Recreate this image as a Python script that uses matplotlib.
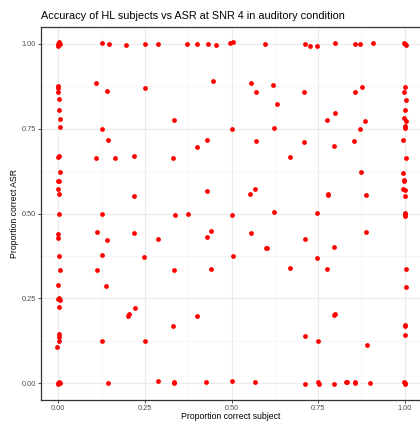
import matplotlib
matplotlib.use("Agg")
import matplotlib.pyplot as plt
from matplotlib.ticker import MultipleLocator

plt.rcParams['font.family'] = ['Liberation Sans', 'DejaVu Sans']

title = "Accuracy of HL subjects vs ASR at SNR 4 in auditory condition"
x_label = "Proportion correct subject"
y_label = "Proportion correct ASR"
tick_values = [0.0, 0.25, 0.5, 0.75, 1.0]
tick_labels = ["0.00", "0.25", "0.50", "0.75", "1.00"]

# Proportion correct subject (with jitter as seen in the picture)
subject = [
    -0.002, 0.003, 0.0, 0.004, 0.0, 0.0, 0.0, 0.002, 0.001, 0.004, 0.004, 0.0, 0.003,
    0.004, 0.0, 0.003, -0.002, 0.002, 0.002, 0.0, 0.0, 0.002, 0.005, -0.001, 0.0,
    0.003, 0.004, 0.002, 0.002, 0.002, 0.001, -0.003, 0.0, 0.003, -0.002, 0.004,
    0.126, 0.145, 0.196, 0.108, 0.140, 0.125, 0.144, 0.108, 0.163, 0.219,
    0.251, 0.289, 0.371, 0.400, 0.432, 0.454, 0.497, 0.504, 0.596,
    0.446, 0.250, 0.556, 0.570, 0.620, 0.632, 0.333, 0.500, 0.623, 0.429, 0.400, 0.570, 0.332,
    0.712, 0.727, 0.748, 0.799, 0.856, 0.872, 0.908, 1.0, 0.998, 1.003,
    0.710, 0.858, 0.876, 1.0, 0.997, 1.003, 0.798, 0.775, 0.886, 0.872, 1.0, 0.998,
    1.003, 1.0, 1.002, 0.710, 0.797, 0.855, 0.996, 0.669, 1.003,
    0.126, 0.113, 0.141, 0.126, 0.111, 0.139, 0.219, 0.219,
    0.430, 0.553, 0.569, 0.337, 0.374, 0.501, 0.623, 0.287, 0.440, 0.429, 0.555,
    0.599, 0.602, 0.248, 0.503, 0.333, 0.440,
    0.874, 0.995, 0.997, 0.999, 0.995, 1.0, 1.0, 0.778, 0.780, 0.888, 0.748, 1.0,
    1.002, 1.002, 0.888, 0.713, 0.797, 0.747, 0.669, 0.776, 1.003, 1.003,
    0.125, 0.142, 0.201, 0.203, 0.220,
    0.249, 0.331, 0.400, 0.287, 0.333, 0.335, 0.425, 0.500, 0.568,
    0.796, 0.799, 1.0, 1.002, 1.0, 0.711, 0.749, 0.891, 0.713, 0.750, 0.752, 0.797,
    0.830, 0.833, 0.856, 0.858, 0.901, 1.0, 1.002, 0.999,
]

# Proportion correct ASR
asr = [
    1.0, 1.005, 0.995, 1.0, 0.876, 0.869, 0.859, 0.839, 0.804, 0.778, 0.754, 0.668, 0.670,
    0.622, 0.597, 0.595, 0.572, 0.557, 0.500, 0.439, 0.429, 0.375, 0.332, 0.288, 0.248,
    0.250, 0.245, 0.223, 0.144, 0.137, 0.125, 0.106, 0.0, 0.004, -0.003, 0.0,
    1.003, 1.0, 0.998, 0.884, 0.860, 0.748, 0.717, 0.663, 0.664, 0.670,
    1.0, 1.0, 1.0, 1.0, 1.0, 0.997, 1.003, 1.005, 1.0,
    0.891, 0.869, 0.884, 0.857, 0.879, 0.822, 0.775, 0.748, 0.753, 0.717, 0.697, 0.715, 0.664,
    1.0, 0.995, 0.995, 1.002, 1.0, 0.999, 1.002, 1.0, 1.004, 0.997,
    0.857, 0.857, 0.872, 0.872, 0.857, 0.835, 0.797, 0.777, 0.774, 0.749, 0.804, 0.783,
    0.772, 0.753, 0.757, 0.710, 0.700, 0.713, 0.718, 0.668, 0.664,
    0.500, 0.445, 0.423, 0.377, 0.334, 0.285, 0.552, 0.443,
    0.566, 0.557, 0.572, 0.496, 0.500, 0.496, 0.504, 0.424, 0.448, 0.432, 0.443,
    0.399, 0.397, 0.372, 0.375, 0.334, 0.337,
    0.621, 0.619, 0.599, 0.596, 0.572, 0.568, 0.553, 0.555, 0.558, 0.556, 0.502, 0.502,
    0.499, 0.493, 0.444, 0.424, 0.401, 0.370, 0.339, 0.336, 0.335, 0.282,
    0.125, 0.0, 0.199, 0.203, 0.221,
    0.123, 0.167, 0.197, 0.005, 0.002, -0.001, 0.003, 0.005, 0.003,
    0.201, 0.205, 0.171, 0.168, 0.142, 0.139, 0.125, 0.111, -0.004, 0.003, -0.002, -0.004,
    0.004, 0.002, 0.0, 0.002, -0.001, 0.0, -0.002, 0.003,
]

W, H = 420, 421
fig = plt.figure(figsize=(W / 100, H / 100), dpi=100)
ax_top, ax_bottom, ax_left, ax_right = 27, 400, 41, 422
ax = fig.add_axes([ax_left / W, (H - ax_bottom) / H,
                   (ax_right - ax_left) / W, (ax_bottom - ax_top) / H])

ax.scatter(subject, asr, s=12, color="#ff0000", linewidths=0, zorder=3)

ax.set_xlim(-0.05, 1.05)
ax.set_ylim(-0.05, 1.05)
ax.set_xticks(tick_values)
ax.set_xticklabels(tick_labels)
ax.set_yticks(tick_values)
ax.set_yticklabels(tick_labels)
ax.xaxis.set_minor_locator(MultipleLocator(0.125))
ax.yaxis.set_minor_locator(MultipleLocator(0.125))
ax.grid(which="major", color="#ebebeb", linewidth=0.8, zorder=0)
ax.grid(which="minor", color="#f2f2f2", linewidth=0.5, zorder=0)
ax.set_axisbelow(True)
ax.tick_params(which="minor", length=0)
ax.tick_params(which="major", length=2.2, width=0.6, color="#333333",
               labelsize=5.3, labelcolor="#4d4d4d", pad=1.2)
for sp in ax.spines.values():
    sp.set_color("#333333")
    sp.set_linewidth(0.9)

ax.set_xlabel(x_label, fontsize=6.2, color="#000000")
ax.set_ylabel(y_label, fontsize=6.2, color="#000000")
pw, ph = ax_right - ax_left, ax_bottom - ax_top
ax.xaxis.set_label_coords((231 - ax_left) / pw, -(416.5 - ax_bottom) / ph)
ax.xaxis.label.set_va("center")
ax.yaxis.set_label_coords(-(ax_left - 15) / pw, (ax_bottom - 213) / ph)
ax.yaxis.label.set_va("center")
fig.text(41 / W, 1 - 16 / H, title, fontsize=7.8, color="#000000", ha="left", va="center")

fig.savefig("out.png", dpi=100)
